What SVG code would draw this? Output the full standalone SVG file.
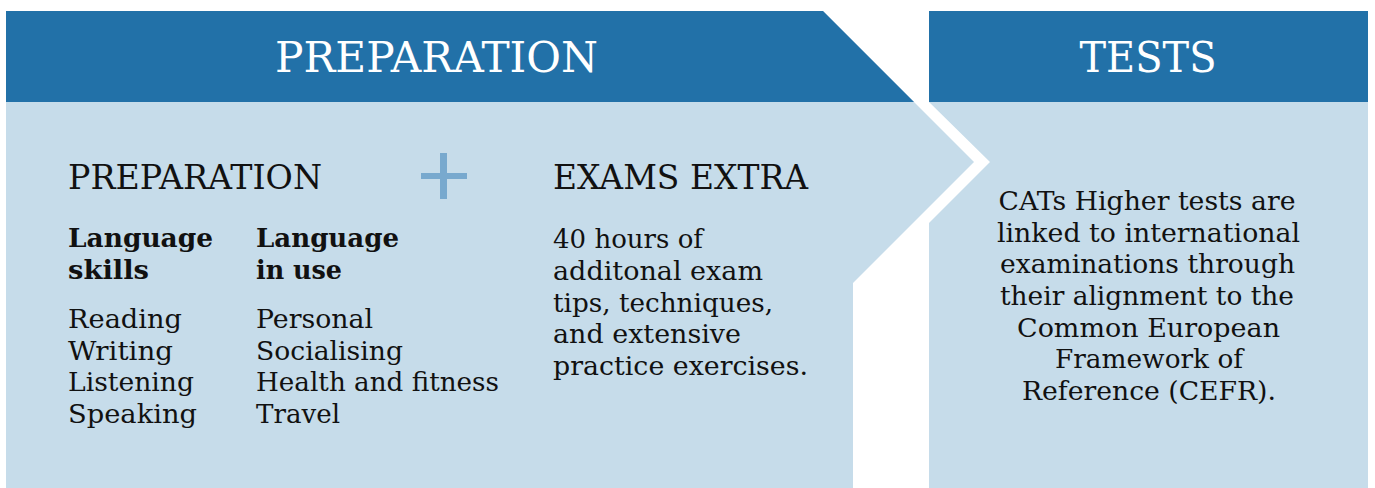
<svg xmlns="http://www.w3.org/2000/svg" width="1375" height="488" viewBox="0 0 1375 488">
<style>
.dark{fill:#2271a8}
.light{fill:#c6dcea}
.plus{fill:#78a9ce}
text{font-family:"DejaVu Serif","Liberation Serif",serif;fill:#111}
.h1{font-size:43px;fill:#fff}
.h2{font-size:34px}
.b{font-size:26px;font-weight:bold}
.t{font-size:26px}
.c{text-anchor:middle}
</style>
<rect width="1375" height="488" fill="#fff"/>
<g id="preparation">
<polygon class="light" points="6,11 823,11 974,162 853,283 853,488 6,488"/>
<polygon class="dark" points="6,11 823,11 914,102 6,102"/>
<text class="h1 c" x="436.5" y="72" textLength="323" lengthAdjust="spacingAndGlyphs">PREPARATION</text>
<text class="h2" x="68" y="189" textLength="254" lengthAdjust="spacingAndGlyphs">PREPARATION</text>
<g id="plus">
<rect class="plus" x="440" y="153" width="7" height="46"/>
<rect class="plus" x="421" y="173" width="46" height="6"/>
</g>
<text class="h2" x="553" y="189" textLength="255" lengthAdjust="spacingAndGlyphs">EXAMS EXTRA</text>
<g id="language-skills">
<text class="b" x="68" y="247" textLength="145" lengthAdjust="spacingAndGlyphs">Language</text>
<text class="b" x="68" y="279" textLength="81" lengthAdjust="spacingAndGlyphs">skills</text>
<text class="t" x="68" y="328" textLength="114" lengthAdjust="spacingAndGlyphs">Reading</text>
<text class="t" x="68" y="360" textLength="105" lengthAdjust="spacingAndGlyphs">Writing</text>
<text class="t" x="68" y="391" textLength="126" lengthAdjust="spacingAndGlyphs">Listening</text>
<text class="t" x="68" y="423" textLength="129" lengthAdjust="spacingAndGlyphs">Speaking</text>
</g>
<g id="language-in-use">
<text class="b" x="256" y="247" textLength="143" lengthAdjust="spacingAndGlyphs">Language</text>
<text class="b" x="256" y="279" textLength="86" lengthAdjust="spacingAndGlyphs">in use</text>
<text class="t" x="256" y="328" textLength="117" lengthAdjust="spacingAndGlyphs">Personal</text>
<text class="t" x="256" y="360" textLength="147" lengthAdjust="spacingAndGlyphs">Socialising</text>
<text class="t" x="256" y="391" textLength="243" lengthAdjust="spacingAndGlyphs">Health and fitness</text>
<text class="t" x="256" y="423" textLength="84" lengthAdjust="spacingAndGlyphs">Travel</text>
</g>
<g id="exams-extra">
<text class="t" x="553" y="248" textLength="150" lengthAdjust="spacingAndGlyphs">40 hours of</text>
<text class="t" x="553" y="280" textLength="210" lengthAdjust="spacingAndGlyphs">additonal exam</text>
<text class="t" x="553" y="312" textLength="220" lengthAdjust="spacingAndGlyphs">tips, techniques,</text>
<text class="t" x="553" y="343" textLength="188" lengthAdjust="spacingAndGlyphs">and extensive</text>
<text class="t" x="553" y="375" textLength="255" lengthAdjust="spacingAndGlyphs">practice exercises.</text>
</g>
</g>
<g id="tests">
<polygon class="light" points="929,102 1368,102 1368,488 929,488 929,223 990,162"/>
<rect class="dark" x="929" y="11" width="439" height="91"/>
<text class="h1 c" x="1148" y="72" textLength="137" lengthAdjust="spacingAndGlyphs">TESTS</text>
<text class="t c" x="1147" y="210" textLength="297" lengthAdjust="spacingAndGlyphs">CATs Higher tests are</text>
<text class="t c" x="1148.5" y="242" textLength="303" lengthAdjust="spacingAndGlyphs">linked to international</text>
<text class="t c" x="1147.5" y="273" textLength="295" lengthAdjust="spacingAndGlyphs">examinations through</text>
<text class="t c" x="1147" y="305" textLength="294" lengthAdjust="spacingAndGlyphs">their alignment to the</text>
<text class="t c" x="1148.5" y="337" textLength="263" lengthAdjust="spacingAndGlyphs">Common European</text>
<text class="t c" x="1149" y="368" textLength="188" lengthAdjust="spacingAndGlyphs">Framework of</text>
<text class="t c" x="1149" y="400" textLength="254" lengthAdjust="spacingAndGlyphs">Reference (CEFR).</text>
</g>
</svg>
